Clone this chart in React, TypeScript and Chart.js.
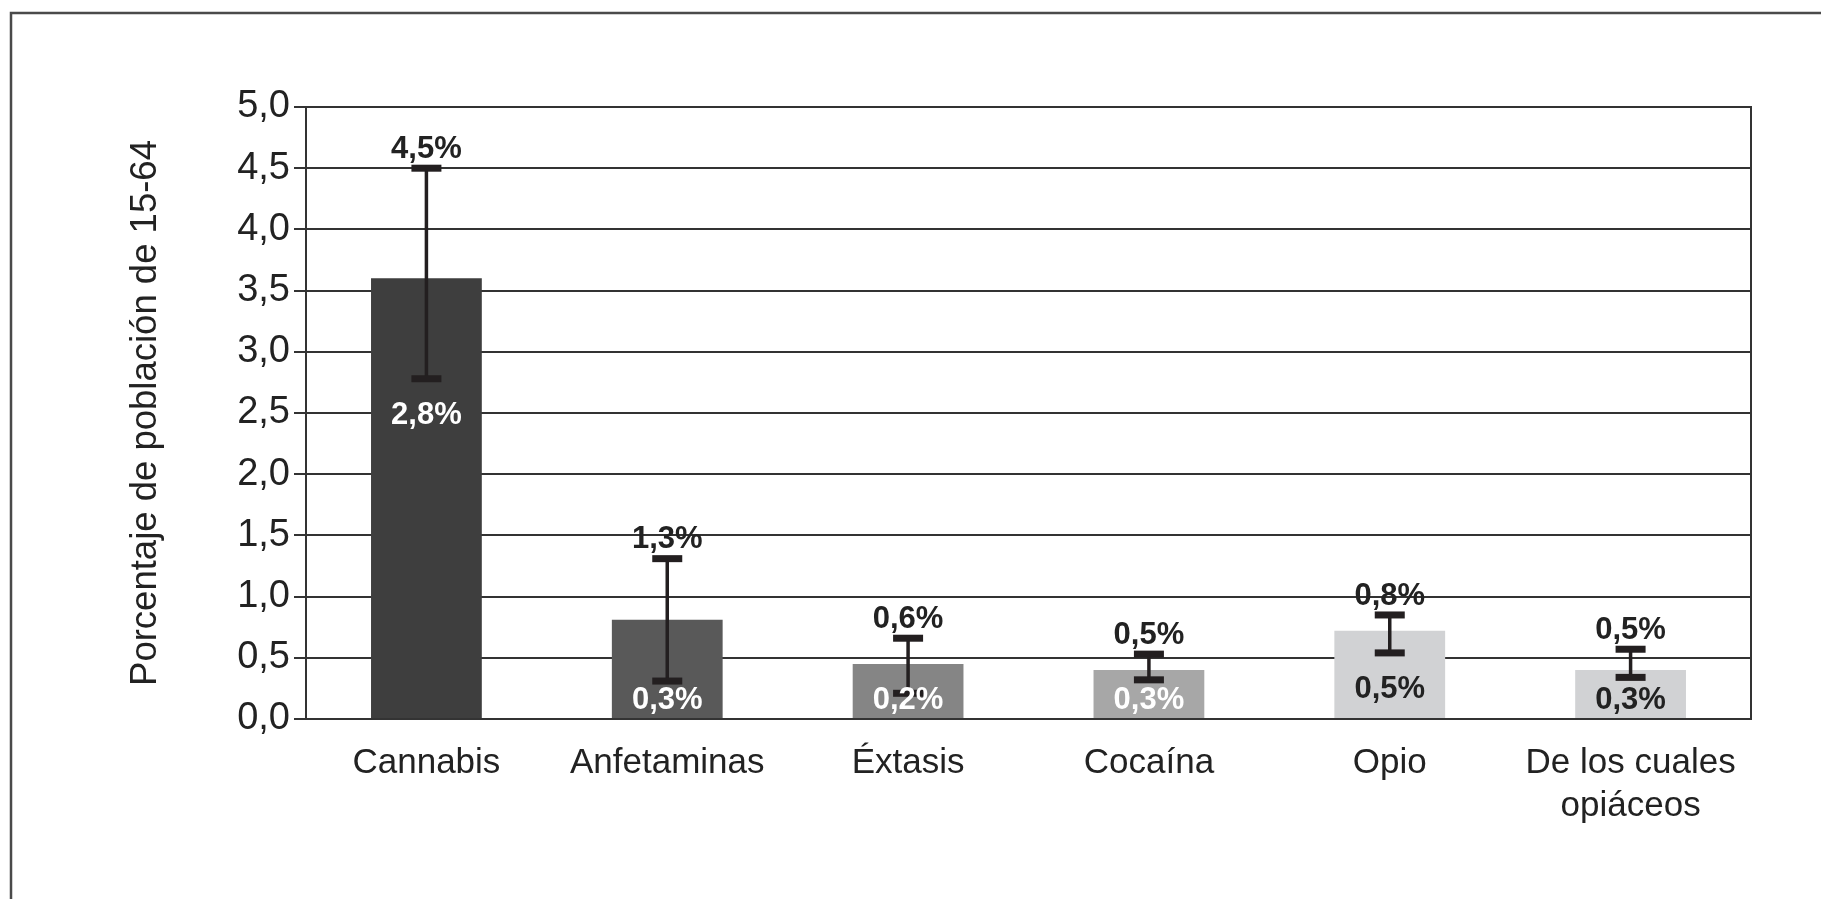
import React, { useEffect, useRef } from "react";
import { Chart, registerables } from "chart.js";

Chart.register(...registerables);

const categories: (string | string[])[] = [
  "Cannabis",
  "Anfetaminas",
  "Éxtasis",
  "Cocaína",
  "Opio",
  ["De los cuales", "opiáceos"],
];
const barValues = [3.6, 0.81, 0.45, 0.4, 0.72, 0.4];
const errHigh = [4.5, 1.31, 0.66, 0.53, 0.85, 0.57];
const errLow = [2.78, 0.31, 0.21, 0.32, 0.54, 0.34];
const highLabels = ["4,5%", "1,3%", "0,6%", "0,5%", "0,8%", "0,5%"];
const lowLabels = ["2,8%", "0,3%", "0,2%", "0,3%", "0,5%", "0,3%"];
const barColors = ["#3e3e3e", "#595959", "#858585", "#a7a7a7", "#d1d2d4", "#d1d2d4"];
const lowLabelColors = ["#ffffff", "#ffffff", "#ffffff", "#ffffff", "#222222", "#222222"];
const yTickLabels = ["0,0", "0,5", "1,0", "1,5", "2,0", "2,5", "3,0", "3,5", "4,0", "4,5", "5,0"];
const yTitle = "Porcentaje de población de 15-64";

const FONT = "'Liberation Sans', Arial, Helvetica, sans-serif";
const W = 1821;
const H = 899;

export default function App() {
  const ref = useRef<HTMLCanvasElement | null>(null);

  useEffect(() => {
    const canvas = ref.current;
    if (!canvas) return;

    const framePlugin = {
      id: "frame",
      beforeDraw(chart: any) {
        const ctx = chart.ctx;
        ctx.save();
        ctx.fillStyle = "#ffffff";
        ctx.fillRect(0, 0, chart.width, chart.height);
        ctx.strokeStyle = "#4a4a4a";
        ctx.lineWidth = 2.5;
        ctx.beginPath();
        ctx.moveTo(11, H + 5);
        ctx.lineTo(11, 13);
        ctx.lineTo(W + 5, 13);
        ctx.stroke();
        ctx.restore();
      },
    };

    const errPlugin = {
      id: "errbars",
      afterDatasetsDraw(chart: any) {
        const ctx = chart.ctx;
        const y = chart.scales.y;
        const area = chart.chartArea;
        const meta = chart.getDatasetMeta(0);
        ctx.save();
        // right border of the plot
        ctx.strokeStyle = "#333333";
        ctx.lineWidth = 2;
        ctx.beginPath();
        ctx.moveTo(area.right, area.top - 1);
        ctx.lineTo(area.right, area.bottom + 1);
        ctx.stroke();

        const base = y.getPixelForValue(0);
        meta.data.forEach((bar: any, i: number) => {
          const x = bar.x;
          const yh = y.getPixelForValue(errHigh[i]);
          const yl = y.getPixelForValue(errLow[i]);
          ctx.strokeStyle = "#231f20";
          ctx.fillStyle = "#231f20";
          ctx.lineWidth = 3.5;
          ctx.beginPath();
          ctx.moveTo(x, yh);
          ctx.lineTo(x, yl);
          ctx.stroke();
          ctx.fillRect(x - 15, yh - 3.5, 30, 7);
          ctx.fillRect(x - 15, yl - 3.5, 30, 7);

          ctx.font = `bold 31px ${FONT}`;
          ctx.textAlign = "center";
          ctx.textBaseline = "middle";
          ctx.fillStyle = "#222222";
          ctx.fillText(highLabels[i], x, yh - 19);
          ctx.fillStyle = lowLabelColors[i];
          const ly = Math.min(yl + 37, base - 19);
          ctx.fillText(lowLabels[i], x, ly);
        });
        ctx.restore();
      },
    };

    const chart = new Chart(canvas, {
      type: "bar",
      data: {
        labels: categories,
        datasets: [
          {
            data: barValues,
            backgroundColor: barColors,
            borderWidth: 0,
            barPercentage: 0.46,
            categoryPercentage: 1,
          },
        ],
      },
      options: {
        responsive: false,
        animation: false,
        devicePixelRatio: 1,
        layout: { padding: { left: 120, top: 107, right: 70, bottom: 0 } },
        plugins: {
          legend: { display: false },
          tooltip: { enabled: false },
        },
        scales: {
          x: {
            grid: { display: false, drawTicks: false },
            border: { display: false },
            ticks: {
              color: "#222222",
              font: { family: FONT, size: 35, lineHeight: 1.22 },
              padding: 23,
              maxRotation: 0,
              autoSkip: false,
            },
            afterFit(scale: any) {
              scale.height = 180;
            },
          },
          y: {
            min: 0,
            max: 5,
            ticks: {
              stepSize: 0.5,
              color: "#222222",
              font: { family: FONT, size: 38 },
              padding: 4,
              callback: (_v: any, idx: number) => yTickLabels[idx],
            },
            grid: {
              color: "#333333",
              lineWidth: 2,
              tickLength: 12,
              drawTicks: true,
            },
            border: { display: true, color: "#333333", width: 2 },
            title: {
              display: true,
              text: yTitle,
              color: "#222222",
              font: { family: FONT, size: 36.5 },
              padding: 4,
            },
            afterFit(scale: any) {
              scale.width = 186;
            },
          },
        },
      },
      plugins: [framePlugin, errPlugin],
    });

    return () => chart.destroy();
  }, []);

  return (
    <div style={{ position: "fixed", left: 0, top: 0, width: W, height: H, background: "#fff" }}>
      <canvas ref={ref} width={W} height={H} style={{ display: "block", width: W, height: H }} />
    </div>
  );
}
